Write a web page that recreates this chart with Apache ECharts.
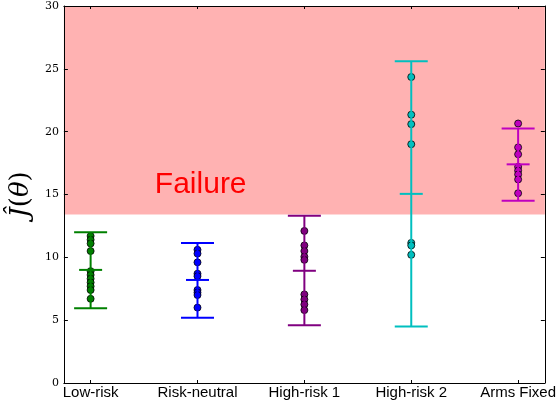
<!DOCTYPE html>
<html><head><meta charset="utf-8">
<script src="https://cdn.jsdelivr.net/npm/echarts@6/dist/echarts.min.js"></script>
<style>html,body{margin:0;padding:0;background:#fff}#c{width:559px;height:402px}</style>
</head><body><div id="c"></div>
<script>
// ---- data ----
const categories = ['Low-risk', 'Risk-neutral', 'High-risk 1', 'High-risk 2', 'Arms Fixed'];
const lowRiskPts     = [11.7, 11.4, 11.1, 10.5, 8.9, 8.6, 8.3, 8.0, 7.7, 7.4, 6.7];
const riskNeutralPts = [10.6, 10.3, 9.6, 8.7, 8.5, 7.4, 7.2, 7.0, 6.0];
const highRisk1Pts   = [12.1, 10.95, 10.5, 10.05, 9.8, 7.05, 6.65, 6.25, 5.8];
const highRisk2Pts   = [24.35, 21.35, 20.6, 19.0, 11.15, 10.95, 10.2];
const armsFixedPts   = [20.65, 18.75, 18.2, 17.2, 16.9, 16.6, 16.2, 15.1];
const means  = [9.0, 8.2, 8.93, 15.05, 17.4];
const lowers = [5.95, 5.2, 4.6, 4.5, 14.5];
const uppers = [12.0, 11.15, 13.3, 25.6, 20.25];
const failureThreshold = 13.4;
const yTicks = [0, 5, 10, 15, 20, 25, 30];
const failureLabel = 'Failure';
const failureLabelPos = [1.03, 15.75];

// ---- styles ----
const colors = ['#008000', '#0000ff', '#800080', '#00bfbf', '#bf00bf'];
const groups = [lowRiskPts, riskNeutralPts, highRisk1Pts, highRisk2Pts, armsFixedPts];

const chart = echarts.init(document.getElementById('c'), null, {renderer: 'canvas'});

const scatterSeries = groups.map((pts, i) => ({
  type: 'scatter',
  name: categories[i],
  data: pts.map(v => [i, v]),
  symbol: 'circle',
  symbolSize: 7,
  itemStyle: {color: colors[i], borderColor: '#000', borderWidth: 0.8, opacity: 1},
  z: 3,
  silent: true
}));

const errData = categories.map((c, i) => [i, lowers[i], means[i], uppers[i]]);

const errSeries = {
  type: 'custom',
  data: errData,
  z: 4,
  silent: true,
  renderItem: function (params, api) {
    const x = api.value(0);
    const lo = api.coord([x, api.value(1)]);
    const mid = api.coord([x, api.value(2)]);
    const hi = api.coord([x, api.value(3)]);
    const col = colors[params.dataIndex];
    const st = {stroke: col, lineWidth: 2};
    const cap = 16.5, mcap = 11.5;
    return {
      type: 'group',
      children: [
        {type: 'line', shape: {x1: lo[0], y1: lo[1], x2: hi[0], y2: hi[1]}, style: st},
        {type: 'line', shape: {x1: lo[0] - cap, y1: lo[1], x2: lo[0] + cap, y2: lo[1]}, style: st},
        {type: 'line', shape: {x1: hi[0] - cap, y1: hi[1], x2: hi[0] + cap, y2: hi[1]}, style: st},
        {type: 'line', shape: {x1: mid[0] - mcap, y1: mid[1], x2: mid[0] + mcap, y2: mid[1]}, style: st}
      ]
    };
  }
};

const bgSeries = {
  type: 'scatter',
  data: [],
  z: 0,
  zlevel: 0,
  silent: true,
  markArea: {
    silent: true,
    z: 0,
    itemStyle: {color: 'rgba(255,0,0,0.3)'},
    data: [[{yAxis: failureThreshold}, {yAxis: yTicks[yTicks.length - 1]}]]
  }
};

const labelSeries = {
  type: 'scatter',
  data: [failureLabelPos],
  symbolSize: 1,
  itemStyle: {opacity: 0},
  z: 6,
  silent: true,
  label: {
    show: true, position: 'inside', formatter: failureLabel, opacity: 1,
    color: '#ff0000', fontSize: 30, fontFamily: 'Liberation Sans, Arial, sans-serif'
  }
};

const xCommon = {
  type: 'value', min: -0.25, max: 4.25,
  splitLine: {show: false},
  axisLine: {show: true, onZero: false, lineStyle: {color: '#000', width: 1}},
  axisTick: {show: true, inside: true, length: 3, customValues: [0, 1, 2, 3, 4], lineStyle: {color: '#000'}},
};

const yCommon = {
  type: 'value', min: 0, max: 30, interval: 5,
  splitLine: {show: false},
  axisLine: {show: true, onZero: false, lineStyle: {color: '#000', width: 1}},
  axisTick: {show: true, inside: true, length: 4, lineStyle: {color: '#000'}},
};

chart.setOption({
  animation: false,
  grid: {left: 63, right: 12, top: 6, bottom: 19, containLabel: false},
  xAxis: [
    Object.assign({}, xCommon, {
      position: 'bottom',
      axisLabel: {
        show: true, customValues: [0, 1, 2, 3, 4], margin: 2,
        formatter: v => categories[Math.round(v)],
        color: '#000', fontSize: 15, fontFamily: 'Liberation Sans, Arial, sans-serif'
      }
    }),
    Object.assign({}, xCommon, {position: 'top', axisLabel: {show: false}})
  ],
  yAxis: [
    Object.assign({}, yCommon, {
      position: 'left',
      axisLabel: {show: true, margin: 5, color: '#000', fontSize: 11, fontFamily: 'DejaVu Serif, Liberation Serif, serif'},
      name: '{i|Ĵ}{n|(}{i|θ}{n|)}',
      nameLocation: 'middle',
      nameRotate: 90,
      nameGap: 25,
      nameTextStyle: {
        rich: {
          i: {fontSize: 26, fontStyle: 'italic', fontFamily: 'DejaVu Serif, Liberation Serif, serif', color: '#000'},
          n: {fontSize: 26, fontFamily: 'DejaVu Serif, Liberation Serif, serif', color: '#000'}
        }
      }
    }),
    Object.assign({}, yCommon, {position: 'right', axisLabel: {show: false}})
  ],
  series: [bgSeries, labelSeries].concat(scatterSeries).concat([errSeries])
});
</script>
</body></html>
